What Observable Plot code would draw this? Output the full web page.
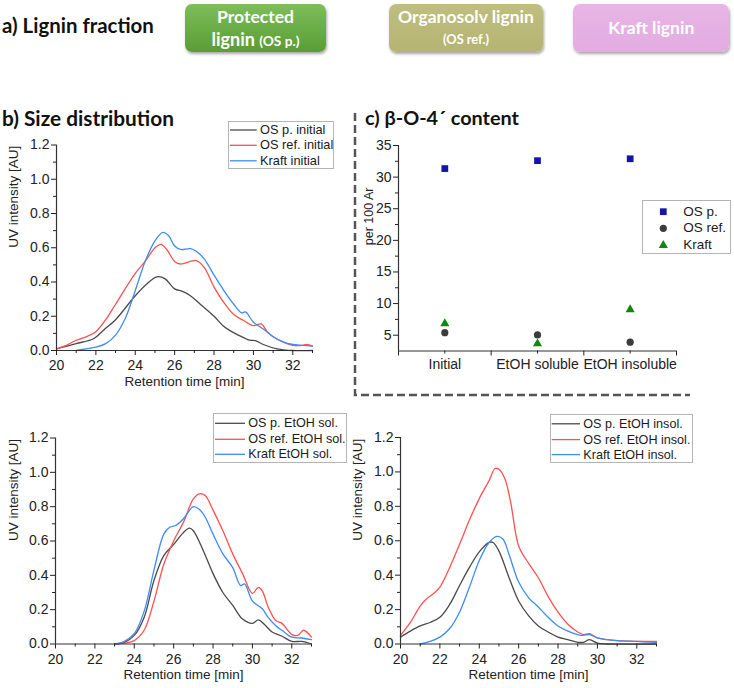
<!DOCTYPE html>
<html>
<head>
<meta charset="utf-8">
<script src="https://cdn.jsdelivr.net/npm/d3@7"></script>
<script src="https://cdn.jsdelivr.net/npm/@observablehq/plot@0.6"></script>
<style>
html,body{margin:0;padding:0;background:#fff;}
#root{position:relative;width:734px;height:688px;overflow:hidden;background:#fff;}
#root svg.plt{position:absolute;overflow:visible;}
.t{position:absolute;white-space:nowrap;line-height:1;}
.hd{font-family:Lato,"Open Sans",sans-serif;font-weight:700;color:#111;}
.bx{position:absolute;border-radius:7px;box-shadow:1px 2px 3px rgba(0,0,0,.35);}
.bt{font-family:Lato,"Open Sans",sans-serif;font-weight:700;color:#fff;}
.lg{position:absolute;border:1px solid #b4b4b4;background:#fff;box-sizing:border-box;}
.lt{font-family:"Liberation Sans",Arial,sans-serif;color:#1a1a1a;}
</style>
</head>
<body>
<div id="root"></div>
<script>
// ---------- data ----------
const panelTitles = ["a) Lignin fraction", "b) Size distribution", "c) β-O-4´ content"];
const categories = ["Initial", "EtOH soluble", "EtOH insoluble"];
const bo4_OSp = [31.35, 32.6, 32.9];
const bo4_OSref = [5.4, 5.05, 3.9];
const bo4_Kraft = [6.85, 3.65, 9.05];
const bo4Names = ["OS p.", "OS ref.", "Kraft"];

const xTicks = [20, 22, 24, 26, 28, 30, 32];
const xMinor = [21, 23, 25, 27, 29, 31, 33];
const yTicks = [0, 0.2, 0.4, 0.6, 0.8, 1.0, 1.2];
const yMinor = [0.1, 0.3, 0.5, 0.7, 0.9, 1.1];
const cTicks = [5, 10, 15, 20, 25, 30, 35];
const cMinor = [7.5, 12.5, 17.5, 22.5, 27.5, 32.5];

const namesInitial = ["OS p. initial", "OS ref. initial", "Kraft initial"];
const namesSol = ["OS p. EtOH sol.", "OS ref. EtOH sol.", "Kraft EtOH sol."];
const namesInsol = ["OS p. EtOH insol.", "OS ref. EtOH insol.", "Kraft EtOH insol."];

// [retention time, UV intensity]
const osP_initial = [[20,0.01],[21,0.04],[21.9,0.07],[22.4,0.12],[23,0.18],[24,0.32],[24.6,0.39],[25.1,0.43],[25.5,0.42],[26,0.36],[26.4,0.345],[26.8,0.32],[27.3,0.27],[28,0.2],[28.5,0.14],[28.9,0.11],[29.5,0.075],[29.8,0.06],[30.1,0.058],[30.5,0.035],[31.2,0.01],[32,0.0],[33,0.0]];
const osRef_initial = [[20,0.01],[20.5,0.03],[21,0.06],[21.5,0.08],[22,0.11],[22.5,0.18],[23,0.27],[24,0.45],[24.5,0.52],[25,0.6],[25.3,0.62],[25.6,0.59],[26,0.52],[26.3,0.505],[26.8,0.52],[27.1,0.525],[27.5,0.485],[28,0.37],[28.5,0.28],[29,0.21],[29.5,0.175],[30,0.145],[30.4,0.155],[30.7,0.11],[31,0.08],[31.5,0.05],[32,0.03],[32.5,0.03],[32.7,0.035],[33,0.025]];
const kraft_initial = [[21,0],[21.5,0.01],[22,0.02],[22.5,0.04],[23,0.09],[23.5,0.19],[24,0.35],[24.5,0.52],[25,0.64],[25.4,0.69],[25.7,0.67],[26,0.61],[26.3,0.59],[26.8,0.595],[27.1,0.58],[27.5,0.535],[28,0.44],[28.5,0.35],[29,0.27],[29.4,0.22],[29.6,0.225],[30,0.165],[30.5,0.125],[31,0.08],[31.5,0.05],[32,0.035],[32.5,0.03],[33,0.025]];

const osP_sol = [[23,0],[23.5,0.01],[24,0.05],[24.5,0.155],[25,0.37],[25.5,0.515],[26,0.58],[26.5,0.65],[26.8,0.675],[27,0.66],[27.5,0.545],[28,0.41],[28.5,0.3],[29,0.225],[29.5,0.145],[30,0.12],[30.3,0.14],[30.6,0.115],[31,0.07],[31.5,0.045],[32,0.015],[32.5,0.015],[33,0]];
const osRef_sol = [[23,0],[23.5,0.005],[24,0.02],[24.5,0.08],[25,0.25],[25.5,0.465],[26,0.6],[26.5,0.71],[27,0.845],[27.3,0.875],[27.6,0.865],[28,0.78],[28.5,0.66],[29,0.525],[29.5,0.41],[30,0.295],[30.3,0.33],[30.5,0.31],[30.8,0.215],[31.2,0.135],[31.5,0.12],[32,0.055],[32.3,0.05],[32.6,0.08],[33,0.04]];
const kraft_sol = [[23,0],[23.5,0.015],[24,0.06],[24.5,0.19],[25,0.43],[25.5,0.64],[25.8,0.68],[26.1,0.69],[26.5,0.73],[27,0.8],[27.3,0.785],[27.6,0.74],[28,0.64],[28.5,0.525],[29,0.445],[29.4,0.34],[29.6,0.35],[30,0.25],[30.5,0.205],[30.8,0.155],[31.2,0.105],[31.5,0.08],[32,0.04],[32.5,0.035],[33,0.025]];

const osP_insol = [[20,0.04],[20.5,0.075],[21,0.105],[21.5,0.125],[22,0.155],[22.5,0.23],[23,0.34],[23.5,0.445],[24,0.535],[24.5,0.59],[24.7,0.59],[25,0.54],[25.5,0.39],[26,0.25],[26.5,0.165],[27,0.105],[27.5,0.07],[28,0.04],[28.5,0.025],[29,0.01],[29.3,0.01],[29.6,0.025],[30,0.005],[30.5,0],[33,0]];
const osRef_insol = [[20,0.05],[20.5,0.125],[21,0.22],[21.3,0.26],[21.7,0.295],[22,0.33],[22.5,0.445],[23,0.58],[23.5,0.72],[24,0.845],[24.5,0.95],[24.8,1.02],[25,1.015],[25.3,0.96],[25.6,0.82],[26,0.57],[26.5,0.47],[27,0.385],[27.5,0.275],[28,0.185],[28.5,0.115],[29,0.07],[29.3,0.055],[29.6,0.06],[30,0.035],[30.5,0.025],[31,0.02],[32,0.015],[33,0.015]];
const kraft_insol = [[21,0],[21.5,0.015],[22,0.04],[22.5,0.09],[23,0.185],[23.5,0.33],[24,0.485],[24.5,0.59],[24.9,0.625],[25.2,0.61],[25.5,0.525],[26,0.36],[26.5,0.27],[27,0.215],[27.5,0.155],[28,0.105],[28.5,0.075],[29,0.055],[29.3,0.05],[29.6,0.055],[30,0.035],[30.5,0.025],[31,0.02],[32,0.015],[33,0.01]];

const seriesColors = ["#4a4a4a", "#ff5050", "#3d8cf2"];
const markerColors = ["#1414aa", "#3c3c3c", "#0c8a0c"];

// ---------- helpers ----------
const root = document.getElementById("root");
const ns = "http://www.w3.org/2000/svg";
function txt(html, {x, y, w, cls = "", size = 14, anchor = "middle", color}) {
  const d = document.createElement("div");
  d.className = "t " + cls;
  d.innerHTML = html;
  d.style.left = x + "px";
  d.style.top = y + "px";
  d.style.fontSize = size + "px";
  if (color) d.style.color = color;
  const tx = anchor === "middle" ? "-50%" : anchor === "end" ? "-100%" : "0";
  d.style.transform = `translate(${tx},-50%)`;
  root.appendChild(d);
  if (w) {
    const bw = d.getBoundingClientRect().width;
    if (bw > 0) d.style.fontSize = (size * w / bw) + "px";
  }
  return d;
}
function place(svg, left, top) {
  svg.classList.add("plt");
  svg.style.left = left + "px";
  svg.style.top = top + "px";
  root.appendChild(svg);
}
const plotStyle = {fontFamily: "'Liberation Sans', Arial, sans-serif", fontSize: "14px", color: "#222", background: "transparent", overflow: "visible"};

function curvePanel({left, top, width, height, x0, x1, y0, y1, curves, ylabX}) {
  const marks = [
    ...curves.map((c, i) => Plot.line(c, {x: d => d[0], y: d => d[1], stroke: seriesColors[i], strokeWidth: 1.3, curve: "catmull-rom"})),
    Plot.ruleY([0], {stroke: "#333", strokeWidth: 1.2}),
    Plot.ruleX([20], {stroke: "#333", strokeWidth: 1.2}),
    Plot.axisX({ticks: xTicks, tickSize: 5, tickPadding: 5, tickFormat: d => String(d), label: null}),
    Plot.axisX({ticks: xMinor, tickSize: 3, tickFormat: () => "", label: null}),
    Plot.axisY({ticks: yTicks, tickSize: 5, tickPadding: 2, tickFormat: d3.format(".1f"), label: null}),
    Plot.axisY({ticks: yMinor, tickSize: 3, tickFormat: () => "", label: null}),
    Plot.text(["Retention time [min]"], {text: d => d, frameAnchor: "bottom", dy: 35, fontSize: 13.5, fill: "#222"}),
    Plot.text(["UV intensity [AU]"], {text: d => d, frameAnchor: "left", dx: ylabX - x0, rotate: -90, fontSize: 13.5, fill: "#222"})
  ];
  const svg = Plot.plot({
    width, height,
    marginLeft: x0 - left, marginRight: left + width - x1,
    marginTop: y1 - top, marginBottom: top + height - y0,
    x: {domain: [20, 33]}, y: {domain: [0, 1.2]},
    style: plotStyle, marks
  });
  place(svg, left, top);
}

// overlay svg for legend swatches and separator
const overlay = document.createElementNS(ns, "svg");
overlay.setAttribute("width", 734); overlay.setAttribute("height", 688);
Object.assign(overlay.style, {position: "absolute", left: "0px", top: "0px", pointerEvents: "none"});

function lineLegend({bx, by, bw, bh, lx1, lx2, tx, ys, labels, size}) {
  const b = document.createElement("div");
  b.className = "lg";
  Object.assign(b.style, {left: bx + "px", top: by + "px", width: bw + "px", height: bh + "px"});
  root.appendChild(b);
  labels.forEach((lab, i) => {
    const l = document.createElementNS(ns, "line");
    l.setAttribute("x1", lx1); l.setAttribute("x2", lx2);
    l.setAttribute("y1", ys[i]); l.setAttribute("y2", ys[i]);
    l.setAttribute("stroke", seriesColors[i]);
    l.setAttribute("stroke-width", 1.3);
    overlay.appendChild(l);
    txt(lab, {x: tx, y: ys[i], cls: "lt", size, anchor: "start"});
  });
}

// ---------- header (a) ----------
txt(panelTitles[0], {x: 2, y: 25, w: 152, cls: "hd", size: 21, anchor: "start"});
const boxes = [
  {x: 185, w: 141, bg: "linear-gradient(#7dbd5b,#5a9d34)"},
  {x: 389, w: 154, bg: "linear-gradient(#c0be80,#b6b472)"},
  {x: 573, w: 156, bg: "linear-gradient(#e8b5e6,#e2ace0)"}
];
boxes.forEach(b => {
  const d = document.createElement("div");
  d.className = "bx";
  Object.assign(d.style, {left: b.x + "px", top: "4px", width: b.w + "px", height: "48px", background: b.bg});
  root.appendChild(d);
});
txt("Protected", {x: 255.5, y: 16.7, w: 77, cls: "bt", size: 17});
txt('lignin <span style="font-size:0.76em">(OS p.)</span>', {x: 255.5, y: 39.3, w: 88, cls: "bt", size: 17});
txt("Organosolv lignin", {x: 466, y: 16.7, w: 136, cls: "bt", size: 17});
txt("(OS ref.)", {x: 466, y: 39.3, w: 46, cls: "bt", size: 13});
txt("Kraft lignin", {x: 651.3, y: 28.3, w: 86, cls: "bt", size: 17});

// ---------- titles ----------
txt(panelTitles[1], {x: 2, y: 118.3, w: 172, cls: "hd", size: 21, anchor: "start"});
txt(panelTitles[2], {x: 365, y: 118.3, w: 154, cls: "hd", size: 21, anchor: "start"});

// ---------- size distribution panels ----------
curvePanel({left: 0, top: 100, width: 340, height: 300, x0: 56, x1: 312, y0: 350, y1: 144.5,
  curves: [osP_initial, osRef_initial, kraft_initial], ylabX: 13.3});
curvePanel({left: 0, top: 395, width: 340, height: 293, x0: 55, x1: 311, y0: 643.5, y1: 437.5,
  curves: [osP_sol, osRef_sol, kraft_sol], ylabX: 13});
curvePanel({left: 340, top: 395, width: 394, height: 293, x0: 400, x1: 656, y0: 643.5, y1: 437,
  curves: [osP_insol, osRef_insol, kraft_insol], ylabX: 357});

// ---------- beta-O-4 panel ----------
const rows = (vals, name) => categories.map((c, i) => ({cat: c, v: vals[i], s: name}));
const catX = d => categories.indexOf(d.cat) + 1;
const cSvg = Plot.plot({
  width: 374, height: 300,
  marginLeft: 38, marginRight: 58, marginTop: 45, marginBottom: 49.5,
  x: {domain: [0.5, 3.5]}, y: {domain: [2.5, 35]},
  style: plotStyle,
  marks: [
    Plot.ruleY([2.5], {stroke: "#333", strokeWidth: 1.2}),
    Plot.ruleX([0.5], {stroke: "#333", strokeWidth: 1.2}),
    Plot.axisX({ticks: [0.5, 1.5, 2.5, 3.5], tickSize: 5, tickFormat: () => "", label: null}),
    Plot.axisX({ticks: [1, 2, 3], tickSize: 3, tickPadding: 5, tickFormat: i => categories[i - 1], label: null}),
    Plot.axisY({ticks: cTicks, tickSize: 5, tickPadding: 2, label: null}),
    Plot.axisY({ticks: cMinor, tickSize: 3, tickFormat: () => "", label: null}),
    Plot.dot(rows(bo4_OSp, bo4Names[0]), {x: catX, y: "v", symbol: "square", r: 3.8, fill: markerColors[0]}),
    Plot.dot(rows(bo4_OSref, bo4Names[1]), {x: catX, y: "v", symbol: "circle", r: 3.6, fill: markerColors[1]}),
    Plot.dot(rows(bo4_Kraft, bo4Names[2]), {x: catX, y: "v", symbol: "triangle", r: 3.4, fill: markerColors[2]}),
    Plot.text(["per 100 Ar"], {text: d => d, frameAnchor: "left", dx: -30, dy: -3, rotate: -90, fontSize: 12.5, fill: "#222"})
  ]
});
place(cSvg, 360, 100);

// ---------- legends ----------
lineLegend({bx: 227.7, by: 120.7, bw: 106.6, bh: 48.6, lx1: 230, lx2: 256.7, tx: 260, ys: [130, 145.3, 160.8], labels: namesInitial, size: 12.8});
lineLegend({bx: 213.3, by: 413.3, bw: 134, bh: 49.4, lx1: 215, lx2: 245, tx: 248.3, ys: [423.3, 439.3, 454.3], labels: namesSol, size: 12.6});
lineLegend({bx: 550, by: 414, bw: 143.3, bh: 49.3, lx1: 551.7, lx2: 580, tx: 583.3, ys: [423.8, 439.6, 454.6], labels: namesInsol, size: 12.6});

// legend for c
(function () {
  const b = document.createElement("div");
  b.className = "lg";
  Object.assign(b.style, {left: "641.7px", top: "200px", width: "89.3px", height: "54px"});
  root.appendChild(b);
  const ys = [211.7, 228.3, 245.3];
  const sym = [d3.symbolSquare, d3.symbolCircle, d3.symbolTriangle];
  const rr = [3.8, 3.6, 3.4];
  ys.forEach((y, i) => {
    const p = document.createElementNS(ns, "path");
    p.setAttribute("d", d3.symbol(sym[i], Math.PI * rr[i] * rr[i])());
    p.setAttribute("transform", `translate(663.3,${y})`);
    p.setAttribute("fill", markerColors[i]);
    overlay.appendChild(p);
    txt(bo4Names[i], {x: 683.3, y, cls: "lt", size: 13.5, anchor: "start"});
  });

  // dashed separator
  const v = document.createElementNS(ns, "path");
  v.setAttribute("d", "M355,113 V395 H690");
  v.setAttribute("fill", "none");
  v.setAttribute("stroke", "#555");
  v.setAttribute("stroke-width", "2.5");
  v.setAttribute("stroke-dasharray", "8 4");
  overlay.appendChild(v);
})();
root.appendChild(overlay);
</script>
</body>
</html>
